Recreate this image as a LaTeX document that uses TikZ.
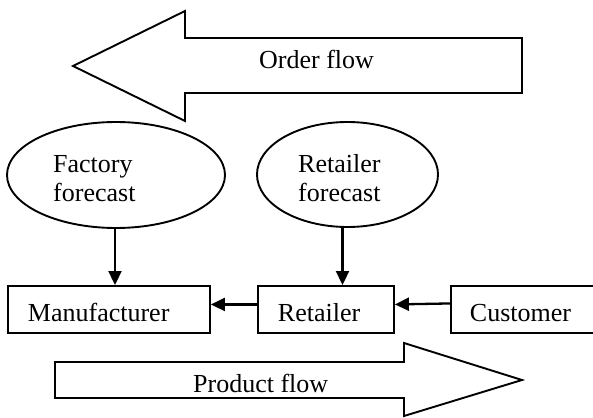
\documentclass[tikz,border=0pt]{standalone}
\usepackage{fontspec}
\setmainfont{Liberation Serif}
\usetikzlibrary{shapes.geometric,arrows.meta}
\begin{document}
\begin{tikzpicture}[x=1pt,y=-1pt,
  every node/.style={font=\fontsize{26}{29}\selectfont},
  outline/.style={draw=black,line width=1.9pt,line join=miter},
  fcast/.style={ellipse,draw=black,line width=1.9pt,inner sep=0pt},
  lbl/.style={anchor=base west,inner sep=0pt,align=left},
  box/.style={rectangle,draw=black,line width=1.9pt,anchor=north west,
    minimum height=47pt,inner xsep=20pt,inner ysep=0pt,
    text height=25pt,text depth=0pt,align=left},
  conn/.style={line width=2.3pt,-{Triangle[length=14pt,width=13pt]}}]
\useasboundingbox (0,0) rectangle (593,417);
\clip (0,0) rectangle (593,417);
% Order flow arrow
\draw[outline] (73,66) -- (185,11) -- (185,38) -- (522,38) -- (522,93)
  -- (185,93) -- (185,121) -- cycle;
\node[lbl] (order) at (259,69) {Order flow};
% forecasts
\node[fcast,minimum width=218pt,minimum height=106pt] (ff) at (116,175) {};
\node[lbl] (fftext) at (53,201) {Factory\\forecast};
\node[fcast,minimum width=181pt,minimum height=105pt] (rf) at (347.5,174.5) {};
\node[lbl] (rftext) at (298,201) {Retailer\\forecast};
% boxes
\node[box,minimum width=202pt,text width=162pt] (man) at (7,285) {Manufacturer};
\node[box,minimum width=136pt,text width=96pt] (ret) at (257,285) {Retailer};
\node[box,minimum width=200pt,text width=162pt,inner xsep=19pt] (cus) at (450,285) {Customer};
% connectors
\draw[conn] ([xshift=-1pt]ff.south) -- ([xshift=-1pt]ff.south |- man.north);
\draw[conn] ([xshift=-5pt]rf.south) -- ([xshift=-5pt]rf.south |- ret.north);
\draw[conn] ([yshift=5pt]ret.west) -- ([yshift=5pt]man.east);
\draw[conn] ([yshift=6pt]cus.west) -- ([yshift=5pt]ret.east);
% Product flow arrow
\draw[outline] (55,362) -- (404,362) -- (404,343) -- (522,380) -- (404,416)
  -- (404,398) -- (55,398) -- cycle;
\node[lbl] (product) at (193,392) {Product flow};
\end{tikzpicture}
\end{document}
